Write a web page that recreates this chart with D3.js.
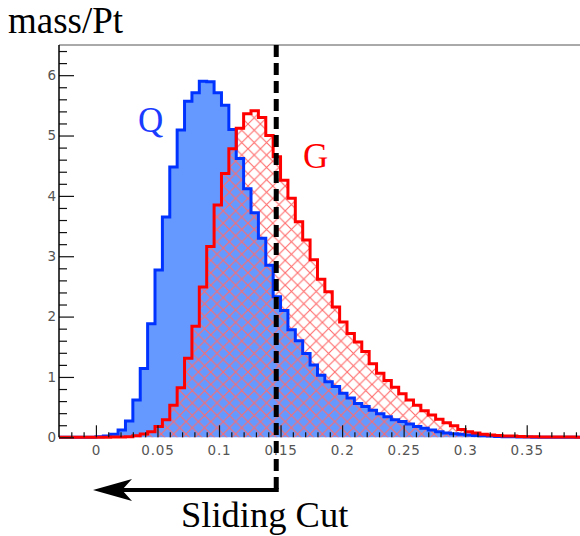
<!DOCTYPE html>
<html>
<head>
<meta charset="utf-8">
<script src="https://cdn.jsdelivr.net/npm/d3@7/dist/d3.min.js"></script>
<style>
  html, body { margin: 0; padding: 0; background: #fff; }
  svg { display: block; }
</style>
</head>
<body>
<svg id="chart" width="580" height="536"></svg>
<script>
// ---- data ----
const binStart = -0.03;
const binWidth = 0.006;
// Q (quark) histogram values, one per bin starting at binStart
const qValues = [
  0, 0, 0, 0, 0,
  0.01, 0.02, 0.05, 0.12, 0.27, 0.62, 1.14, 1.88, 2.77, 3.65,
  4.48, 5.09, 5.57, 5.71, 5.90, 5.89, 5.71, 5.50, 5.10, 4.62,
  4.12, 3.72, 3.30, 2.85, 2.33, 2.10, 1.78, 1.60, 1.39, 1.20,
  1.03, 0.92, 0.84, 0.73, 0.65, 0.56, 0.51, 0.45, 0.39, 0.34,
  0.29, 0.26, 0.22, 0.18, 0.15, 0.12, 0.09, 0.07, 0.06, 0.05,
  0.04, 0.03, 0.025, 0.02, 0.015, 0.01, 0.01, 0.005, 0.005, 0,
  0, 0, 0, 0, 0, 0
];
// G (gluon) histogram values
const gValues = [
  0, 0, 0, 0, 0,
  0, 0, 0.003, 0.005, 0.01, 0.025, 0.055, 0.09, 0.18, 0.29,
  0.53, 0.82, 1.31, 1.84, 2.49, 3.16, 3.85, 4.37, 4.78, 5.12,
  5.36, 5.41, 5.30, 5.00, 4.65, 4.26, 3.96, 3.57, 3.27, 2.94,
  2.62, 2.41, 2.16, 1.91, 1.72, 1.58, 1.42, 1.22, 1.06, 0.94,
  0.83, 0.72, 0.62, 0.53, 0.44, 0.37, 0.30, 0.24, 0.19, 0.13,
  0.09, 0.07, 0.05, 0.04, 0.03, 0.02, 0.02, 0.015, 0.01, 0.01,
  0.005, 0.005, 0.005, 0.003, 0.003, 0.002
];
const cutValue = 0.1465;
const xTickValues = [0, 0.05, 0.1, 0.15, 0.2, 0.25, 0.3, 0.35];
const xTickLabels = ["0", "0.05", "0.1", "0.15", "0.2", "0.25", "0.3", "0.35"];
const yTickValues = [0, 1, 2, 3, 4, 5, 6];
const yTickLabels = ["0", "1", "2", "3", "4", "5", "6"];
const titleText = "mass/Pt";
const seriesLabels = ["Q", "G"];
const cutLabel = "Sliding Cut";

(function draw() {
  const pL = 59, pR = 580, pT = 45, pB = 437.3;
  const svg = d3.select("#chart");
  const x = d3.scaleLinear().domain([-0.03, 0.3933]).range([pL, pR]);
  const y = d3.scaleLinear().domain([0, 6.5]).range([pB, pT]);

  const defs = svg.append("defs");
  defs.append("clipPath").attr("id", "plotclip")
    .append("rect").attr("x", pL).attr("y", pT - 2)
    .attr("width", pR - pL).attr("height", pB - pT + 4);

  const hp = 12.4;
  const pat = defs.append("pattern").attr("id", "hatch")
    .attr("patternUnits", "userSpaceOnUse")
    .attr("width", hp).attr("height", hp);
  pat.append("path").attr("d", `M0,0L${hp},${hp}M0,${hp}L${hp},0`)
    .attr("stroke", "#ff6a6a").attr("stroke-width", 1.1).attr("fill", "none");

  function stepPoints(values) {
    const pts = [];
    values.forEach((v, i) => {
      const e0 = binStart + i * binWidth;
      pts.push([e0, v], [e0 + binWidth, v]);
    });
    return pts;
  }
  const qPts = stepPoints(qValues);
  const gPts = stepPoints(gValues);

  const area = d3.area().x(d => x(d[0])).y0(y(0)).y1(d => y(d[1]));
  const line = d3.line().x(d => x(d[0])).y(d => y(d[1]));

  const plot = svg.append("g").attr("clip-path", "url(#plotclip)");
  plot.append("path").attr("d", area(qPts)).attr("fill", "#6699ff");
  plot.append("path").attr("d", area(gPts)).attr("fill", "url(#hatch)");
  plot.append("path").attr("d", line(qPts)).attr("fill", "none")
    .attr("stroke", "#0033ff").attr("stroke-width", 3);
  plot.append("path").attr("d", line(gPts)).attr("fill", "none")
    .attr("stroke", "#ff0000").attr("stroke-width", 3);

  const tickFont = "DejaVu Sans, sans-serif";
  svg.append("line").attr("x1", pL).attr("x2", pR).attr("y1", pT).attr("y2", pT)
    .attr("stroke", "#555").attr("stroke-width", 1);

  const xMinor = d3.range(-2, 40).map(k => k * 0.01)
    .filter(v => !xTickValues.some(t => Math.abs(t - v) < 1e-9));
  const gxMinor = svg.append("g").attr("transform", `translate(0,${pB})`)
    .call(d3.axisBottom(x).tickValues(xMinor).tickSize(-5).tickFormat(""));
  gxMinor.select(".domain").remove();
  const gx = svg.append("g").attr("transform", `translate(0,${pB})`)
    .call(d3.axisBottom(x).tickValues(xTickValues).tickSize(-12).tickPadding(8)
      .tickFormat((d, i) => xTickLabels[i]));
  gx.select(".domain").remove();
  [gxMinor, gx].forEach(g => g.selectAll(".tick line").attr("stroke", "#111").attr("stroke-width", 1.2));
  gx.selectAll("text").attr("font-family", tickFont).attr("font-size", 13.5)
    .attr("fill", "#555").attr("letter-spacing", "0.8px");

  const yMinor = d3.range(0, 33).map(k => k * 0.2).filter(v => Math.abs(v - Math.round(v)) > 1e-6);
  const gyMinor = svg.append("g").attr("transform", `translate(${pL},0)`)
    .call(d3.axisLeft(y).tickValues(yMinor).tickSize(-8).tickFormat(""));
  gyMinor.select(".domain").remove();
  const gy = svg.append("g").attr("transform", `translate(${pL},0)`)
    .call(d3.axisLeft(y).tickValues(yTickValues).tickSize(-15).tickPadding(3)
      .tickFormat((d, i) => yTickLabels[i]));
  gy.select(".domain").remove();
  [gyMinor, gy].forEach(g => g.selectAll(".tick line").attr("stroke", "#111").attr("stroke-width", 1.2));
  gy.selectAll("text").attr("font-family", tickFont).attr("font-size", 13.5).attr("fill", "#555");

  svg.append("line").attr("x1", pL).attr("x2", pL).attr("y1", pT).attr("y2", pB)
    .attr("stroke", "#000").attr("stroke-width", 1.5);

  const xc = x(cutValue);
  svg.append("line").attr("x1", xc).attr("x2", xc).attr("y1", pT).attr("y2", 492)
    .attr("stroke", "#000").attr("stroke-width", 5).attr("stroke-dasharray", "12,6");
  svg.append("line").attr("x1", 120).attr("x2", xc + 2.5).attr("y1", 490).attr("y2", 490)
    .attr("stroke", "#000").attr("stroke-width", 4);
  svg.append("path").attr("d", "M93,490L132,479L122,490L132,501Z").attr("fill", "#000");

  const serif = "Liberation Serif, Times New Roman, serif";
  svg.append("text").attr("x", 8).attr("y", 33).text(titleText)
    .attr("font-family", serif).attr("font-size", 37).attr("fill", "#000");
  svg.append("text").attr("x", 138).attr("y", 132).text(seriesLabels[0])
    .attr("font-family", serif).attr("font-size", 35).attr("fill", "#1a3cff");
  svg.append("text").attr("x", 303).attr("y", 168).text(seriesLabels[1])
    .attr("font-family", serif).attr("font-size", 35).attr("fill", "#ff0000");
  svg.append("text").attr("x", 181).attr("y", 527).text(cutLabel)
    .attr("font-family", serif).attr("font-size", 36.5).attr("fill", "#000");
})();
</script>
</body>
</html>
